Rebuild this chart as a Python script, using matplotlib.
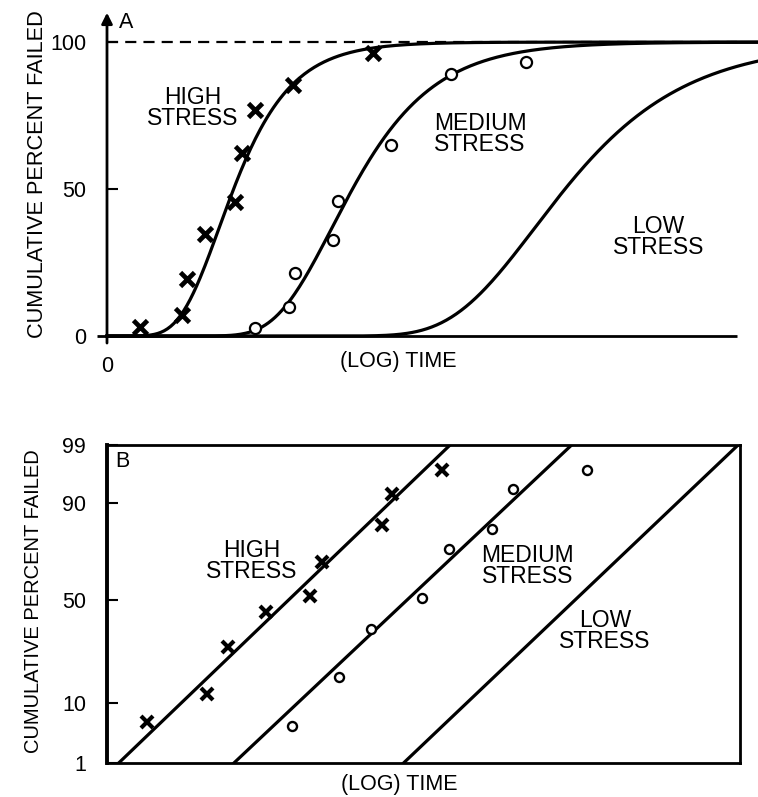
import numpy as np
import matplotlib.pyplot as plt
from statistics import NormalDist

plt.rcParams['font.family'] = ['Liberation Sans', 'DejaVu Sans']

W, H = 758, 797

# ---- panel A: percent failed against (log) time ----
high_a_t = [0.52, 1.19, 1.27, 1.56, 2.03, 2.14, 2.35, 2.96, 4.23]
high_a_pct = [3.2, 7.1, 19.3, 34.7, 45.7, 62.1, 76.9, 85.4, 96.2]
med_a_t = [2.35, 2.89, 2.98, 3.59, 3.66, 4.50, 5.46, 6.65]
med_a_pct = [2.8, 10.0, 21.5, 32.7, 46.0, 65.0, 89.3, 93.3]

# fitted extreme-value curves: location and scale in log-time units
curve_loc = [1.78, 3.57, 6.79]
curve_scale = [0.626, 0.89, 1.31]
a_yticks = [0, 50, 100]

# ---- panel B: same data on probability paper ----
high_b_t = [0.63, 1.58, 1.91, 2.51, 3.21, 3.39, 4.34, 4.50, 5.29]
high_b_pct = [5.4, 12.0, 28.0, 44.2, 52.3, 69.3, 83.8, 92.5, 97.0]
med_b_t = [2.93, 3.67, 4.17, 4.97, 5.41, 6.08, 6.42, 7.58]
med_b_pct = [4.7, 16.9, 35.7, 50.9, 74.8, 82.4, 93.8, 97.0]

# fitted lines: log time at 1 % and at 99 %
line_t1 = [0.18, 2.00, 4.68]
line_t99 = [5.42, 7.34, 9.97]
b_yticks = [1, 10, 50, 90, 99]

labels = ['HIGH\nSTRESS', 'MEDIUM\nSTRESS', 'LOW\nSTRESS']

# probability axis: heights of the printed rulings (px from the bottom)
rule_h = [0, 60.6, 163.3, 260.6, 318.3]
_nd = NormalDist()
_probit = np.vectorize(lambda p: _nd.inv_cdf(min(max(p / 100.0, 1e-9), 1 - 1e-9)),
                       otypes=[float])
_cdf = np.vectorize(lambda z: 100.0 * _nd.cdf(z), otypes=[float])
rule_z = _probit(b_yticks)


def prob_fwd(p):
    return np.interp(_probit(np.asarray(p, float)), rule_z, rule_h)


def prob_inv(h):
    return _cdf(np.interp(np.asarray(h, float), rule_h, rule_z))


def ev_cdf(t, loc, scale):
    return 100.0 * np.exp(-np.exp(-(t - loc) / scale))


fig = plt.figure(figsize=(W / 100, H / 100), dpi=100)
fig.patch.set_facecolor('white')

tick_font = 15.5
text_font = 16.5

# ---------------- A ----------------
axA = fig.add_axes([107 / W, 1 - 350.7 / H, (W - 107) / W, 338 / H])
axA.set_xlim(0, (W - 107) / 63.0)
axA.set_ylim(-5, 110)
for s in axA.spines.values():
    s.set_visible(False)
axA.set_facecolor('none')

# axes drawn by hand: arrowed ordinate, abscissa, 100 % asymptote
axA.annotate('', xy=(0, 110), xytext=(0, -2.4),
             arrowprops=dict(arrowstyle='-|>', lw=2, color='black',
                             mutation_scale=16, shrinkA=0, shrinkB=0),
             annotation_clip=False)
axA.plot([-0.16, 10.0], [0, 0], color='black', lw=2, clip_on=False,
         solid_capstyle='butt')
axA.plot([0, 10.0], [100, 100], color='black', lw=1.6, ls=(0, (5, 3.2)))

tt = np.linspace(0, (W - 107) / 63.0, 400)
for loc, sc in zip(curve_loc, curve_scale):
    axA.plot(tt, ev_cdf(tt, loc, sc), color='black', lw=2.3, clip_on=False)

axA.plot(high_a_t, high_a_pct, ls='none', marker='x', ms=10, mew=3.4,
         color='black')
axA.plot(med_a_t, med_a_pct, ls='none', marker='o', ms=8, mew=1.6,
         mfc='white', mec='black')

axA.set_yticks(a_yticks)
axA.set_yticklabels([str(v) for v in a_yticks])
axA.tick_params(axis='y', direction='in', length=8, width=1.5, pad=15,
                labelsize=tick_font)
axA.set_xticks([0])
axA.set_xticklabels(['0'])
axA.tick_params(axis='x', length=0, pad=4, labelsize=tick_font)
axA.set_xlabel('(LOG) TIME', fontsize=tick_font)
axA.xaxis.set_label_coords((398 - 107) / (W - 107), 0.0)

axA.text(0.3, 106.8, 'A', fontsize=tick_font, ha='center', va='center')
a_text_pos = [(1.365, 77.6), (5.92, 68.7), (8.75, 33.7)]
for (x, y), lab in zip(a_text_pos, labels):
    axA.text(x, y, lab, fontsize=text_font, ha='center', va='center',
             linespacing=0.92)

fig.text(38 / W, 1 - 174 / H, 'CUMULATIVE PERCENT FAILED', rotation=90,
         ha='center', va='center', fontsize=15.7)

# ---------------- B ----------------
axB = fig.add_axes([107 / W, 1 - 763.3 / H, 633 / W, 318.3 / H])
axB.set_yscale('function', functions=(prob_fwd, prob_inv))
axB.set_xlim(0, 10)
axB.set_ylim(1, 99)
for name, s in axB.spines.items():
    s.set_linewidth(2.8 if name == 'left' else 2)

for t1, t99 in zip(line_t1, line_t99):
    axB.plot([t1, t99], [1, 99], color='black', lw=2.3)

axB.plot(high_b_t, high_b_pct, ls='none', marker='x', ms=8, mew=3,
         color='black')
axB.plot(med_b_t, med_b_pct, ls='none', marker='o', ms=6.5, mew=1.7,
         mfc='white', mec='black')

axB.set_yticks(b_yticks)
axB.set_yticklabels([str(v) for v in b_yticks])
axB.yaxis.set_minor_locator(plt.NullLocator())
axB.tick_params(axis='y', which='both', direction='in', length=8, width=1.5,
                pad=15, labelsize=tick_font)
axB.set_xticks([])
axB.set_xlabel('(LOG) TIME', fontsize=tick_font)
axB.xaxis.set_label_coords((399 - 107) / 633, -0.035)

axB.text(0.025, 0.947, 'B', fontsize=tick_font, ha='center', va='center',
         transform=axB.transAxes)
b_text_pos = [(0.229, 0.636), (0.664, 0.620), (0.787, 0.416)]
for (x, y), lab in zip(b_text_pos, labels):
    axB.text(x, y, lab, fontsize=text_font, ha='center', va='center',
             linespacing=0.92, transform=axB.transAxes)

fig.text(34 / W, 1 - 601 / H, 'CUMULATIVE PERCENT FAILED', rotation=90,
         ha='center', va='center', fontsize=14.5)

fig.savefig('out.png', dpi=100, facecolor='white')
